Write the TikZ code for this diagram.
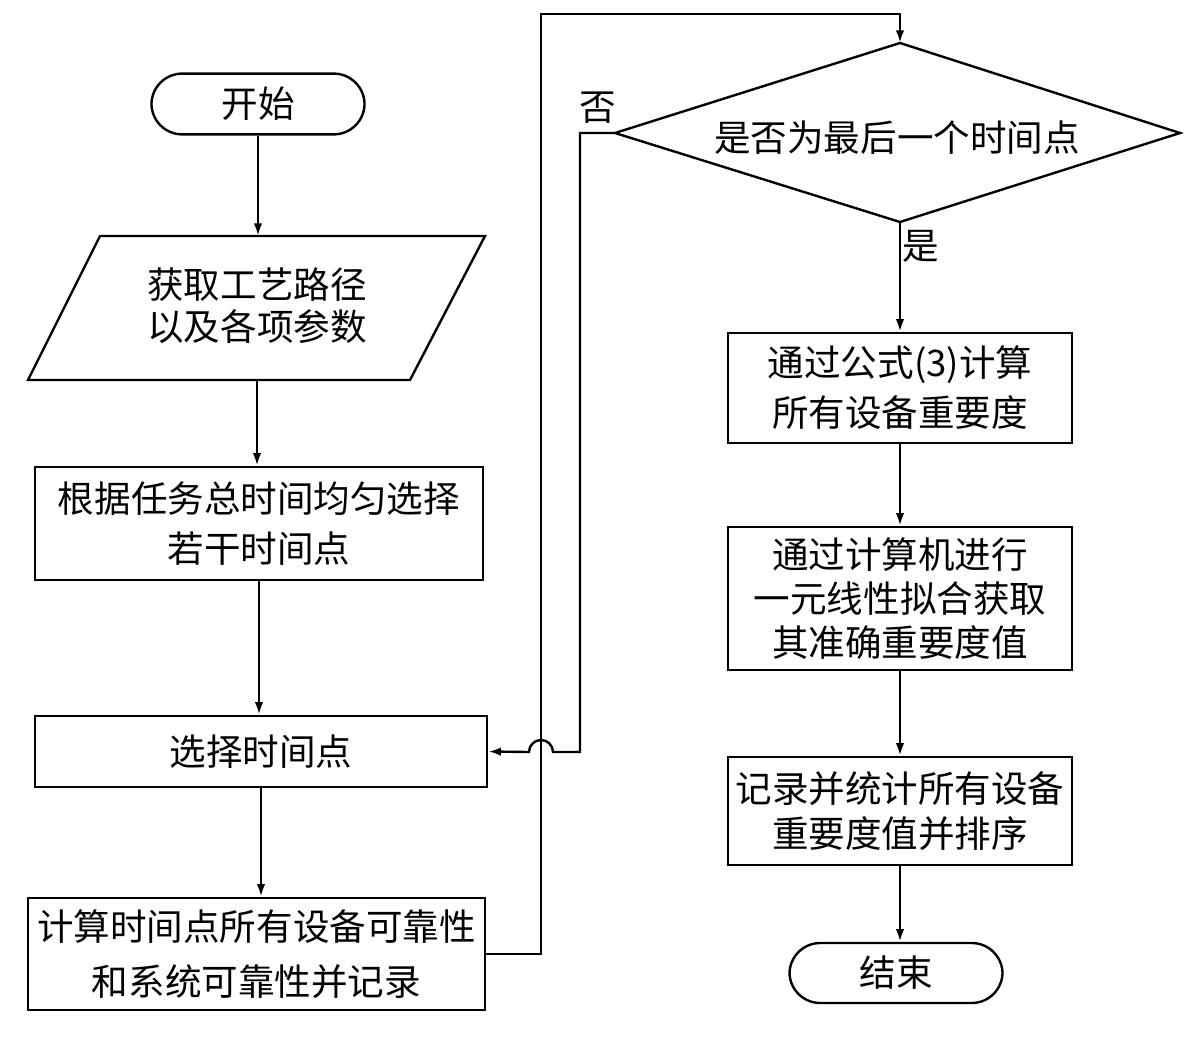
\documentclass[tikz,border=0pt]{standalone}
\usepackage{fontspec}
\setmainfont{Noto Sans CJK SC}
\usetikzlibrary{arrows.meta}
\begin{document}
\begin{tikzpicture}[x=0.025cm,y=-0.025cm,
  line width=1.7pt,
  arr/.style={-{Latex[length=9pt,width=6pt]}},
  box/.style={draw,rectangle,inner sep=2pt,align=center,minimum width=#1},
  term/.style={draw,rectangle,rounded corners=0.77cm,minimum width=5.325cm,minimum height=1.52cm,inner sep=0pt},
  txt/.style={font=\fontsize{26}{#1}\selectfont,align=center}
]
\useasboundingbox (0,0) rectangle (1200,1049);
% left column
\node[term,font=\fontsize{26}{30}\selectfont] (start) at (258,104) {开始};
\coordinate (p1) at (100,236);
\coordinate (p2) at (485,236);
\coordinate (p3) at (410,380);
\coordinate (p4) at (28,380);
\coordinate (ptop) at (258,236);
\coordinate (pbot) at (257,380);
\draw (p1) -- (p2) -- (p3) -- (p4) -- cycle;
\node[txt=30pt] (para) at (257,306) {获取工艺路径\\以及各项参数};
\node[box=11.2cm,minimum height=2.825cm,txt=35.5pt] (box3) at (259,523.5) {根据任务总时间均匀选择\\若干时间点};
\node[box=11.3cm,minimum height=1.775cm,txt=30pt] (box4) at (261,751.5) {选择时间点};
\node[box=11.425cm,minimum height=2.8cm,txt=39pt] (box5) at (256.5,954) {计算时间点所有设备可靠性\\和系统可靠性并记录};
% right column
\coordinate (dtop) at (900,43);
\coordinate (dleft) at (615,133);
\coordinate (dright) at (1180,133);
\coordinate (dbot) at (900,222);
\draw (dtop) -- (dright) -- (dbot) -- (dleft) -- cycle;
\node[txt=30pt] (dtext) at (897,138) {是否为最后一个时间点};
\node[box=8.6cm,minimum height=2.75cm,txt=35.5pt] (box6) at (900,388) {通过公式(3)计算\\所有设备重要度};
\node[box=8.6cm,minimum height=3.575cm,txt=31pt] (box7) at (900,598.5) {通过计算机进行\\一元线性拟合获取\\其准确重要度值};
\node[box=8.6cm,minimum height=2.7cm,txt=32pt] (box8) at (900,811) {记录并统计所有设备\\重要度值并排序};
\node[term,font=\fontsize{26}{30}\selectfont,minimum height=1.5cm] (end) at (896,973) {结束};
% labels
\node[txt=30pt] (no) at (598,108) {否};
\node[txt=30pt] (yes) at (921,246) {是};
% connectors
\draw[arr] (start.south) -- (ptop);
\draw[arr] (pbot) -- (pbot |- box3.north);
\draw[arr] (box3.south) -- (box3.south |- box4.north);
\draw[arr] (box4.south) -- (box4.south |- box5.north);
\coordinate (loopc) at (541,14);
\draw[arr] (box5.east) -| (loopc) -| (dtop);
\coordinate (nc1) at (580,133);
\coordinate (nc2) at (580,752);
\coordinate (hopr) at (553,752);
\draw[arr] (dleft) -- (nc1) -- (nc2) -- (hopr) arc[start angle=0,end angle=180,radius=0.3cm] -- (box4.east);
\draw[arr] (dbot) -- (box6.north);
\draw[arr] (box6.south) -- (box7.north);
\draw[arr] (box7.south) -- (box8.north);
\draw[arr] (box8.south) -- (box8.south |- end.north);
\end{tikzpicture}
\end{document}
